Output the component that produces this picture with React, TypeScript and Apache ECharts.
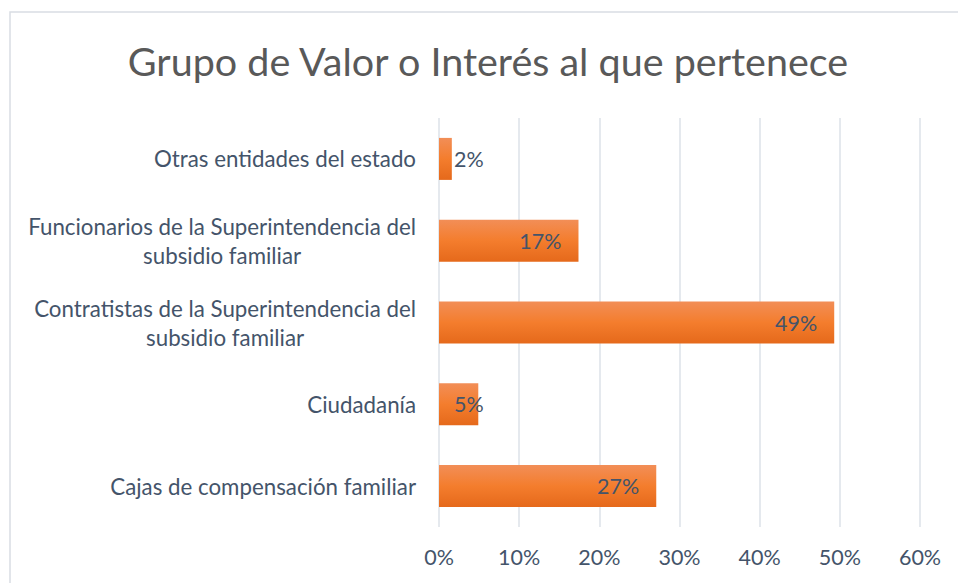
import React, { useEffect, useRef } from "react";
import * as echarts from "echarts";

const titleText = "Grupo de Valor o Interés al que pertenece";
const categories = [
  "Cajas de compensación familiar",
  "Ciudadanía",
  "Contratistas de la Superintendencia del\nsubsidio familiar",
  "Funcionarios de la Superintendencia del\nsubsidio familiar",
  "Otras entidades del estado",
];
const values = [27.1, 4.9, 49.3, 17.4, 1.6];
const shortBars = [false, true, false, false, true];

const FONT = "Lato, 'Open Sans', sans-serif";
const TEXT = "#44546a";

export default function App() {
  const ref = useRef<HTMLDivElement>(null);
  useEffect(() => {
    if (!ref.current) return;
    const chart = echarts.init(ref.current, null, { renderer: "svg" });
    const grad = new echarts.graphic.LinearGradient(0, 0, 0, 1, [
      { offset: 0, color: "#f28e57" },
      { offset: 0.5, color: "#f47d2d" },
      { offset: 1, color: "#e5691b" },
    ]);
    chart.setOption({
      animation: false,
      backgroundColor: "#ffffff",
      textStyle: { fontFamily: FONT },
      graphic: [
        {
          type: "rect",
          shape: { x: 10, y: 12, width: 1000, height: 1000 },
          style: { fill: "none", stroke: "#d9dde3", lineWidth: 1.5 },
          silent: true,
        },
      ],
      title: {
        text: titleText,
        left: 483,
        top: 35,
        textAlign: "center",
        textStyle: { fontFamily: FONT, fontSize: 39.5, fontWeight: "normal", color: "#595959" },
      },
      grid: { left: 439, right: 38, top: 118, bottom: 56 },
      xAxis: {
        type: "value",
        min: 0,
        max: 60,
        interval: 10,
        axisLine: { show: false },
        axisTick: { show: false },
        axisLabel: { formatter: "{value}%", color: TEXT, fontSize: 21.5, margin: 19, fontFamily: FONT },
        splitLine: { lineStyle: { color: "#dde2e8", width: 1.5 } },
      },
      yAxis: {
        type: "category",
        data: categories,
        axisLine: { show: false },
        axisTick: { show: false },
        axisLabel: {
          color: TEXT,
          fontSize: 22.3,
          margin: 23,
          lineHeight: 29,
          align: "right",
          fontFamily: FONT,
          formatter: (v: string) =>
            v
              .split("\n")
              .map((l) => "{c|" + l + "}")
              .join("\n"),
          rich: {
            c: { align: "center", color: TEXT, fontSize: 22.3, lineHeight: 29, fontFamily: FONT },
          },
        },
      },
      series: [
        {
          type: "bar",
          barWidth: 42,
          itemStyle: { color: grad },
          data: values.map((v, i) => ({
            value: v,
            label: shortBars[i]
              ? { position: "insideLeft", distance: 15 }
              : { position: "insideRight", distance: 17 },
          })),
          label: {
            show: true,
            color: TEXT,
            fontSize: 21.5,
            fontFamily: FONT,
            formatter: (p: any) => Math.round(p.value) + "%",
          },
        },
      ],
    });
    return () => chart.dispose();
  }, []);
  return <div ref={ref} style={{ position: "fixed", left: 0, top: 0, width: 958, height: 583 }} />;
}
